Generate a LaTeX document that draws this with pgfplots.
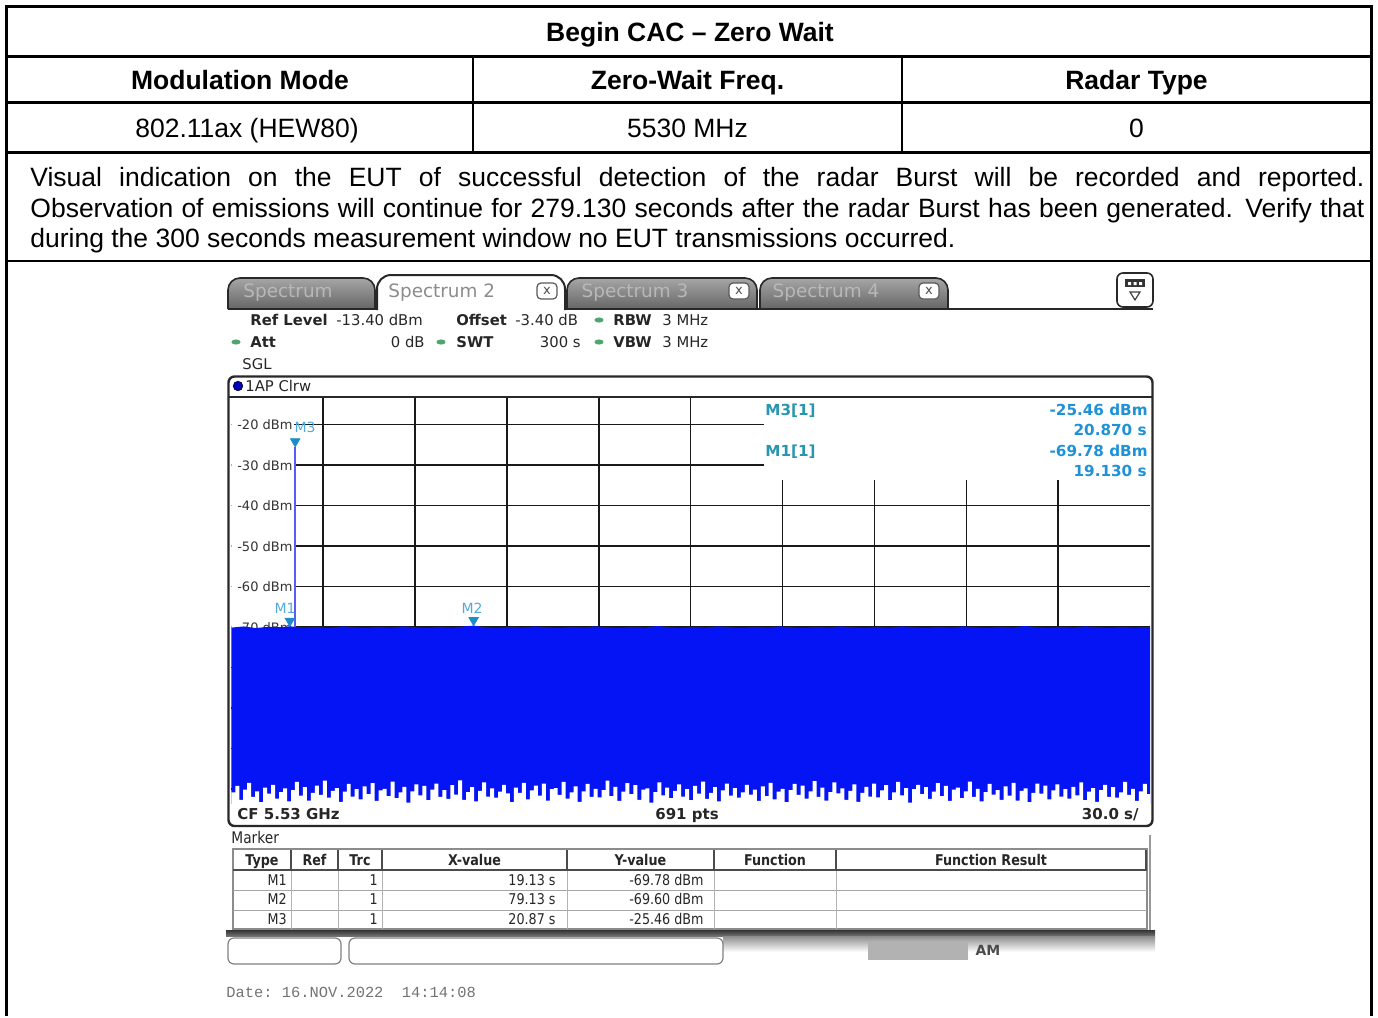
\documentclass[border=0pt]{standalone}
\usepackage{pgfplots}
\pgfplotsset{compat=1.18}
\usepackage{pgfplotstable}
\usepackage{fontspec}
\setmainfont{Liberation Sans}
\newfontfamily\dv{DejaVu Sans}
\newfontfamily\dvc[FakeStretch=0.86]{DejaVu Sans}
\newfontfamily\mono{Liberation Mono}
\definecolor{trc}{RGB}{5,20,245}
\definecolor{spk}{RGB}{90,90,250}
\definecolor{mk}{RGB}{30,140,200}
\definecolor{mklab}{RGB}{80,170,220}
\definecolor{mkinfo}{RGB}{40,150,175}
\definecolor{mkval}{RGB}{30,145,215}
\definecolor{ledg}{RGB}{80,165,110}
\definecolor{frm}{RGB}{40,40,40}

\pgfplotstableread{
x y
0 -70.1
4 -69.8
8 -70.2
12 -69.9
16 -70.0
19.13 -69.78
24 -70.1
28 -69.9
32 -70.2
36 -69.8
40 -70.0
44 -70.2
48 -69.9
52 -70.1
56 -69.8
60 -70.0
64 -70.2
68 -69.9
72 -70.1
76 -69.8
79.13 -69.60
83 -70.0
87 -70.2
91 -69.9
95 -70.1
99 -69.8
103 -70.0
107 -70.2
111 -69.9
115 -70.1
119 -69.8
123 -70.0
127 -70.2
131 -69.9
135 -70.1
139 -69.7
143 -70.0
147 -70.2
151 -69.9
155 -70.1
159 -69.8
163 -70.0
167 -70.2
171 -69.9
175 -70.1
179 -69.8
183 -70.0
187 -70.2
191 -69.9
195 -70.1
199 -69.8
203 -70.0
207 -70.2
211 -69.9
215 -70.1
219 -69.8
223 -70.0
227 -70.2
231 -69.9
235 -70.1
239 -69.8
243 -70.0
247 -70.2
251 -69.9
255 -70.1
259 -69.7
263 -70.0
267 -70.2
271 -69.9
275 -70.1
279 -69.8
283 -70.0
287 -70.2
291 -69.9
295 -70.1
300 -69.9
}\maxtrace

\pgfplotstableread{
y
-110.8 
-109.2 
-112.6 
-110.1 
-108.4 
-111.9 
-110.5 
-113.2 
-109.6 
-111.1 
-108.9 
-112.3 
-110.7 
-109.8 
-113.0 
-110.2 
-108.2 
-111.6 
-109.5 
-112.8 
-110.9 
-109.1 
-111.4 
-107.9 
-112.1 
-110.4
-109.7 
-113.1 
-110.6 
-108.7 
-111.8 
-110.0 
-112.5 
-109.3 
-111.2 
-108.5 
-112.9 
-110.3 
-109.9 
-111.7 
-108.1 
-112.2 
-110.8 
-109.4 
-113.3 
-110.5 
-108.8 
-111.5 
-109.2 
-112.7 
-110.1 
-108.6
-111.9 
-110.2 
-112.4 
-109.0 
-111.3 
-107.8 
-112.6 
-110.7 
-109.5 
-113.0 
-110.4 
-108.3 
-111.8 
-109.8 
-112.1 
-110.6 
-108.9 
-111.0 
-113.2 
-109.6 
-110.9 
-108.4 
-112.5 
-110.3 
-109.1 
-111.6
-108.6 
-112.8 
-110.0 
-109.7 
-111.4 
-108.2 
-112.3 
-110.8 
-109.3 
-113.1 
-110.5 
-108.7 
-111.9 
-109.9 
-112.0 
-110.2 
-107.9 
-111.7 
-109.4 
-112.9 
-110.6 
-108.5 
-111.2 
-109.0 
-112.6 
-110.1
-109.8 
-113.3 
-110.7 
-108.3 
-111.5 
-109.6 
-112.2 
-110.4 
-108.8 
-111.8 
-110.0 
-112.7 
-109.2 
-111.1 
-108.1 
-112.4 
-110.9 
-109.5 
-113.0 
-110.3 
-108.6 
-111.6 
-109.7 
-112.1 
-110.8 
-108.9
-111.3 
-110.1 
-112.9 
-109.3 
-111.7 
-108.4 
-112.5 
-110.6 
-109.9 
-113.2 
-110.2 
-108.7 
-111.4 
-109.1 
-112.3 
-110.5 
-108.0 
-111.9 
-109.6 
-112.8 
-110.7 
-108.3 
-111.0 
-109.8 
-112.6 
-110.4
-108.8 
-113.1 
-110.9 
-109.4 
-111.8 
-108.6 
-112.0 
-110.3 
-109.0 
-112.7 
-110.8 
-108.2 
-111.5 
-109.7 
-113.3 
-110.0 
-108.9 
-111.2 
-109.5 
-112.4 
-110.6 
-108.5 
-111.7 
-109.2 
-112.9 
-110.1
-109.6 
-112.2 
-110.5 
-108.1 
-111.9 
-109.9 
-113.0 
-110.7 
-108.7 
-111.3 
-110.2 
-112.6 
-109.3 
-111.6 
-108.4 
-112.8 
-110.4 
-109.8 
-113.2 
-110.9 
-108.6 
-111.1 
-109.1 
-112.5 
-110.3 
-108.8
-111.8 
-110.0 
-112.3 
-109.4 
-111.5 
-108.3 
-112.7 
-110.6 
-109.7 
-113.1 
-110.2 
-108.9 
-111.9 
-109.5 
-112.1 
-110.8 
-108.2 
-111.4 
-109.9 
-112.9 
-110.5 
-108.7 
-111.2
-110.1
-109.4
-111.7
}\mintrace

\begin{document}
\begin{tikzpicture}[x=0.5pt,y=-0.5pt]
\path (0,0) rectangle (1378,1016);
% ---------- outer table ----------
\draw[line width=1.5pt] (6.5,1016) -- (6.5,6.5) -- (1371.5,6.5) -- (1371.5,1016);
\draw[line width=1.3pt] (6.5,56.5) -- (1371.5,56.5);
\draw[line width=1.3pt] (6.5,102.5) -- (1371.5,102.5);
\draw[line width=1.3pt] (6.5,152.5) -- (1371.5,152.5);
\draw[line width=1.3pt] (6.5,261) -- (1371.5,261);
\draw[line width=1.3pt] (473,56.5) -- (473,152.5);
\draw[line width=1.3pt] (902,56.5) -- (902,152.5);
\begin{scope}[every node/.style={inner sep=0pt, font=\fontsize{13.25}{15.25}\selectfont}]
\node[anchor=base, font=\fontsize{13.25}{15.25}\selectfont\bfseries] at (690,41.5) {Begin CAC – Zero Wait};
\node[anchor=base, font=\fontsize{13.25}{15.25}\selectfont\bfseries] at (240,89.5) {Modulation Mode};
\node[anchor=base, font=\fontsize{13.25}{15.25}\selectfont\bfseries] at (687.5,89.5) {Zero-Wait Freq.};
\node[anchor=base, font=\fontsize{13.25}{15.25}\selectfont\bfseries] at (1136.5,89.5) {Radar Type};
\node[anchor=base] at (247,137.5) {802.11ax (HEW80)};
\node[anchor=base] at (687.5,137.5) {5530 MHz};
\node[anchor=base] at (1136.5,137.5) {0};
\node[anchor=base west] at (30,186.5) {\hbox to 667pt{Visual indication on the EUT of successful detection of the radar Burst will be recorded and reported.}};
\node[anchor=base west] at (30,217) {\hbox to 667pt{Observation of emissions will continue for 279.130 seconds after the radar Burst has been generated. Verify that}};
\node[anchor=base west] at (30,247.5) {during the 300 seconds measurement window no EUT transmissions occurred.};
\end{scope}
% ---------- tabs ----------
\path[draw=frm, line width=0.8pt, rounded corners=6pt, top color=black!35, bottom color=black!60] (228,309) -- (228,278) -- (375,278) -- (375,309);
\path[draw=frm, line width=0.8pt, rounded corners=6pt, top color=black!35, bottom color=black!60] (567,309) -- (567,278) -- (757,278) -- (757,309);
\path[draw=frm, line width=0.8pt, rounded corners=6pt, top color=black!35, bottom color=black!60] (760,309) -- (760,278) -- (948,278) -- (948,309);
\path[draw=frm, line width=1pt, rounded corners=7pt, fill=white] (377,310) -- (377,275) -- (565,275) -- (565,310);
\draw[frm, line width=1pt] (228,309) -- (377,309);
\draw[frm, line width=1pt] (565,309) -- (1153,309);
\begin{scope}[every node/.style={inner sep=0pt, font=\dv\fontsize{9.2}{10}\selectfont}]
\node[anchor=base, text=black!28] at (288,297) {Spectrum};
\node[anchor=base west, text=black!45] at (388,297) {Spectrum 2};
\node[anchor=base, text=black!28] at (635,297) {Spectrum 3};
\node[anchor=base, text=black!28] at (826,297) {Spectrum 4};
\end{scope}
\foreach \bx in {537,729,919}{
  \draw[black!65, line width=0.6pt, rounded corners=2pt, fill=white] (\bx,283) rectangle ({\bx+20},299);
  \node[inner sep=0pt, font=\dv\fontsize{6.5}{7}\selectfont, text=black!70] at ({\bx+10},290.5) {x};
}
\draw[frm, line width=0.8pt, rounded corners=3pt, fill=white] (1117,273) rectangle (1153,307);
\fill[black!80] (1125,279) rectangle (1145,287);
\fill[white] (1128,282) rectangle (1131,285) (1133.5,282) rectangle (1136.5,285) (1139,282) rectangle (1142,285);
\draw[black!75, line width=0.6pt] (1130,292) -- (1140,292) -- (1135,300) -- cycle;
% ---------- info header ----------
\begin{scope}[every node/.style={inner sep=0pt, font=\dv\fontsize{7.4}{8}\selectfont, text=black!85}]
\node[anchor=base west, font=\dv\fontsize{7.4}{8}\selectfont\bfseries] at (250,325.5) {Ref Level};
\node[anchor=base west] at (336,325.5) {-13.40 dBm};
\node[anchor=base west, font=\dv\fontsize{7.4}{8}\selectfont\bfseries] at (456,325.5) {Offset};
\node[anchor=base west] at (515,325.5) {-3.40 dB};
\node[anchor=base west, font=\dv\fontsize{7.4}{8}\selectfont\bfseries] at (613,325.5) {RBW};
\node[anchor=base west] at (662,325.5) {3 MHz};
\node[anchor=base west, font=\dv\fontsize{7.4}{8}\selectfont\bfseries] at (250,347.5) {Att};
\node[anchor=base east] at (425,347.5) {0 dB};
\node[anchor=base west, font=\dv\fontsize{7.4}{8}\selectfont\bfseries] at (456,347.5) {SWT};
\node[anchor=base east] at (581,347.5) {300 s};
\node[anchor=base west, font=\dv\fontsize{7.4}{8}\selectfont\bfseries] at (613,347.5) {VBW};
\node[anchor=base west] at (662,347.5) {3 MHz};
\node[anchor=base west] at (242,369.5) {SGL};
\end{scope}
\foreach \lx/\ly in {236/342,599/320,441/342,599/342}{
  \fill[ledg] (\lx,\ly) ellipse (2.3pt and 1.3pt);
}
% ---------- plot ----------
\begin{scope}[x=1cm,y=1cm]
\begin{axis}[at={(115.65pt,-199pt)}, anchor=north west, scale only axis,
  width=459.35pt, height=202.5pt,
  xmin=0, xmax=300, ymin=-113.4, ymax=-13.4,
  axis line style={draw=none},
  xtick={30,60,...,270}, ytick={-20,-30,...,-110},
  xticklabels={}, yticklabels={}, major tick length=0pt,
  grid=major, major grid style={draw=black!90, line width=0.75pt}]
\fill[white] (axis cs:174,-13.4) rectangle (axis cs:300,-33.6);
\node[anchor=west, fill=white, inner xsep=0.6pt, inner ysep=0.8pt, xshift=-1.5pt, font=\dv\fontsize{6.5}{7}\selectfont, text=black!80] at (axis cs:0,-20) {\hspace*{3.7pt}-20 dBm};
\node[anchor=west, fill=white, inner xsep=0.6pt, inner ysep=0.8pt, xshift=-1.5pt, font=\dv\fontsize{6.5}{7}\selectfont, text=black!80] at (axis cs:0,-30) {\hspace*{3.7pt}-30 dBm};
\node[anchor=west, fill=white, inner xsep=0.6pt, inner ysep=0.8pt, xshift=-1.5pt, font=\dv\fontsize{6.5}{7}\selectfont, text=black!80] at (axis cs:0,-40) {\hspace*{3.7pt}-40 dBm};
\node[anchor=west, fill=white, inner xsep=0.6pt, inner ysep=0.8pt, xshift=-1.5pt, font=\dv\fontsize{6.5}{7}\selectfont, text=black!80] at (axis cs:0,-50) {\hspace*{3.7pt}-50 dBm};
\node[anchor=west, fill=white, inner xsep=0.6pt, inner ysep=0.8pt, xshift=-1.5pt, font=\dv\fontsize{6.5}{7}\selectfont, text=black!80] at (axis cs:0,-60) {\hspace*{3.7pt}-60 dBm};
\node[anchor=west, fill=white, inner xsep=0.6pt, inner ysep=0.8pt, xshift=-1.5pt, font=\dv\fontsize{6.5}{7}\selectfont, text=black!80] at (axis cs:0,-70) {\hspace*{3.7pt}-70 dBm};
\addplot[fill=trc, draw=none] table[x=x, y=y] {\maxtrace} -- (axis cs:300,-120) -- (axis cs:0,-120) -- cycle;
\addplot[const plot, fill=white, draw=none] table[x expr=\coordindex*1.3, y=y] {\mintrace} -- (axis cs:305,-120) -- (axis cs:0,-120) -- cycle;
\addplot[spk, line width=1pt] coordinates {(20.87,-69.9) (20.87,-25.46)};
\addplot[only marks, mark=triangle*, mark size=2.7pt, mark options={yshift=2.7pt, rotate=180, fill=mk, draw=mk}] coordinates {(19.13,-69.78) (79.13,-69.60) (20.87,-25.46)};
\end{axis}
\end{scope}
% frame
\draw[frm, line width=1.2pt, rounded corners=3pt] (228.5,376.5) rectangle (1152.5,826);
\draw[frm, line width=0.8pt] (228.5,397) -- (1152.5,397);
\fill[blue!75!black] (238,386) circle (2.4pt);
\draw[black, line width=0.3pt] (238,386) circle (2.4pt);
\node[anchor=base west, inner sep=0pt, font=\dv\fontsize{7.4}{8}\selectfont, text=black!85] at (245,391) {1AP Clrw};
% marker labels
\begin{scope}[every node/.style={inner sep=0pt, font=\dv\fontsize{7}{8}\selectfont, text=mklab}]
\node at (285,608) {M1};
\node at (472,608) {M2};
\node at (305,427) {M3};
\end{scope}
\begin{scope}[every node/.style={inner sep=0pt, font=\dv\fontsize{7.6}{8}\selectfont\bfseries}]
\node[anchor=base west, text=mkinfo] at (765,415) {M3[1]};
\node[anchor=base east, text=mkval] at (1148,415) {-25.46 dBm};
\node[anchor=base east, text=mkval] at (1147,435.5) {20.870 s};
\node[anchor=base west, text=mkinfo] at (765,456) {M1[1]};
\node[anchor=base east, text=mkval] at (1148,456) {-69.78 dBm};
\node[anchor=base east, text=mkval] at (1147,476) {19.130 s};
\end{scope}
% bottom bar
\begin{scope}[every node/.style={inner sep=0pt, font=\dv\fontsize{7.5}{8}\selectfont\bfseries, text=black!85}]
\node[anchor=base west] at (237,819.5) {CF 5.53 GHz};
\node[anchor=base] at (687,819.5) {691 pts};
\node[anchor=base east] at (1139,819.5) {30.0 s/};
\end{scope}
% ---------- marker table ----------
\node[anchor=base west, inner sep=0pt, font=\dvc\fontsize{8}{9}\selectfont, text=black!85] at (231,843.5) {Marker};
\draw[black!45, line width=0.6pt] (233,849) rectangle (1147,929);
\draw[black!70, line width=0.7pt] (233,870) -- (1147,870);
\draw[black!35, line width=0.5pt] (233,890) -- (1147,890) (233,910) -- (1147,910);
\foreach \cx in {291,338,382,567,714,836}{
  \draw[black!70, line width=0.7pt] (\cx,850) -- (\cx,869);
  \draw[black!30, line width=0.5pt] (\cx,871) -- (\cx,929);
}
\draw[black!70, line width=0.7pt] (1146,850) -- (1146,869);
\begin{scope}[every node/.style={inner sep=0pt, font=\dvc\fontsize{7.4}{8}\selectfont\bfseries, text=black!85}]
\node[anchor=base] at (262,865) {Type};
\node[anchor=base] at (314.5,865) {Ref};
\node[anchor=base] at (360,865) {Trc};
\node[anchor=base] at (474.5,865) {X-value};
\node[anchor=base] at (640.5,865) {Y-value};
\node[anchor=base] at (775,865) {Function};
\node[anchor=base] at (991,865) {Function Result};
\end{scope}
\begin{scope}[every node/.style={inner sep=0pt, font=\dvc\fontsize{7.4}{8}\selectfont, text=black!85, anchor=base east}]
\node at (287,885) {M1}; \node at (378,885) {1}; \node at (556,885) {19.13 s}; \node at (704,885) {-69.78 dBm};
\node at (287,904.5) {M2}; \node at (378,904.5) {1}; \node at (556,904.5) {79.13 s}; \node at (704,904.5) {-69.60 dBm};
\node at (287,924) {M3}; \node at (378,924) {1}; \node at (556,924) {20.87 s}; \node at (704,924) {-25.46 dBm};
\end{scope}
\draw[black!40, line width=0.8pt] (1150,835) -- (1150,930);
% ---------- lower strip ----------
\shade[top color=black!80, bottom color=black!55] (226,930) rectangle (1155,936);
\shade[top color=black!45, bottom color=white] (723,936) rectangle (1155,952);
\draw[black!50, line width=0.6pt, rounded corners=3pt, fill=white] (228,938) rectangle (341,964);
\draw[black!50, line width=0.6pt, rounded corners=3pt, fill=white] (349,938) rectangle (723,964);
\fill[black!30] (868,942) rectangle (968,960);
\node[inner sep=0pt, font=\dv\fontsize{7}{8}\selectfont\bfseries, text=black!70] at (988,950) {AM};
\node[anchor=base west, inner sep=0pt, font=\mono\fontsize{7.7}{8}\selectfont, text=black!55] at (226,997) {Date:\ 16.NOV.2022\ \ 14:14:08};
\end{tikzpicture}
\end{document}
